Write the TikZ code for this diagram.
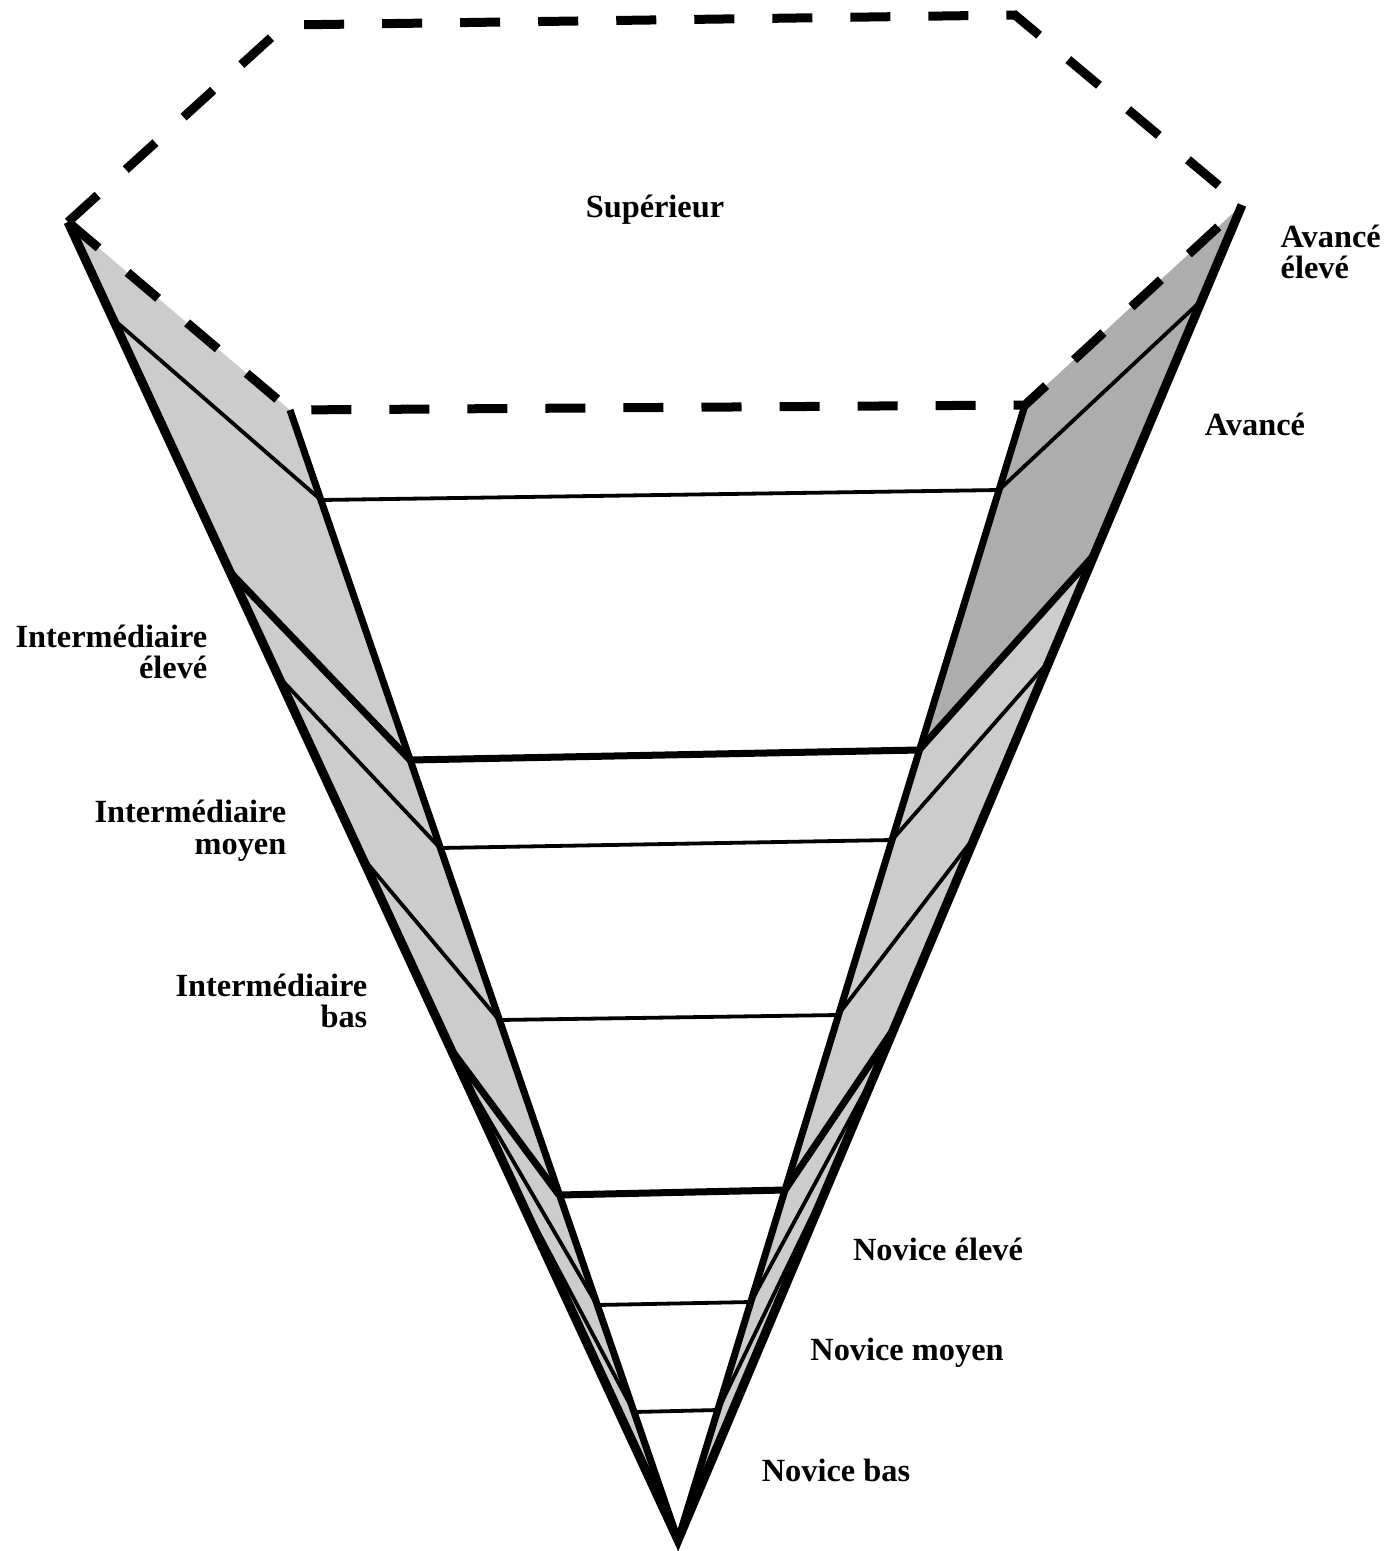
\documentclass[tikz,border=0pt]{standalone}
\usepackage{fontspec}
\setmainfont{Liberation Serif}
\usepackage{tikz}

\begin{document}
\begin{tikzpicture}[x=0.01cm, y=-0.01cm,
    every node/.append style={font=\fontsize{9.2}{9}\selectfont\bfseries},
    lbl/.style={inner sep=0pt},
    cone/.style={line width=0.09cm, line join=miter},
    face/.style={line width=0.07cm},
    rim/.style={line width=0.09cm, dash pattern=on 0.4cm off 0.38cm},
    fine/.style={line width=0.038cm},
    heavy/.style={line width=0.07cm},
    band/.style={fill=black!20},
    darkband/.style={fill=black!32},
]
\useasboundingbox (0,0) rectangle (1400,1551);

% cone corners
\coordinate (apex) at (678,1540);
\coordinate (olL) at (68,222);
\coordinate (ilL) at (290,410);
\coordinate (olR) at (1242,205);
\coordinate (ilR) at (1025,405);
\coordinate (bkL) at (285,25);
\coordinate (bkR) at (1015,15);

% levels on the front face
\coordinate (a1) at (321,500);  \coordinate (b1) at (999,490);
\coordinate (a2) at (410,760);  \coordinate (b2) at (919,750);
\coordinate (a3) at (440,848);  \coordinate (b3) at (892,840);
\coordinate (a4) at (499,1020); \coordinate (b4) at (838,1015);
\coordinate (a5) at (559,1195); \coordinate (b5) at (785,1190);
\coordinate (a6) at (597,1305); \coordinate (b6) at (751,1302);
\coordinate (a7) at (634,1412); \coordinate (b7) at (718,1410);

% starts of the slanted lines on the outer edges
\coordinate (p1) at (112,318);  \coordinate (q1) at (1202,300);
\coordinate (p2) at (230,572);  \coordinate (q2) at (1094,555);
\coordinate (p3) at (279,677);  \coordinate (q3) at (1050,660);
\coordinate (p4) at (362,857);  \coordinate (q4) at (976,835);
\coordinate (p5) at (450,1048); \coordinate (q5) at (893,1030);
\coordinate (p6) at (463,1075); \coordinate (q6) at (879,1065);
\coordinate (p7) at (511,1180); \coordinate (q7) at (834,1170);

% shaded sides
\fill[band] (olL) -- (ilL) -- (apex) -- cycle;
\fill[band] (olR) -- (ilR) -- (apex) -- cycle;
\fill[darkband] (olR) -- (ilR) -- (b2) -- (q2) -- cycle;

% slanted lines
\draw[fine] (p1) -- (a1);
\draw[heavy] (p2) -- (a2);
\draw[fine] (p3) -- (a3);
\draw[fine] (p4) -- (a4);
\draw[heavy] (p5) -- (a5);
\draw[fine] (p6) -- (a6);
\draw[fine] (p7) -- (a7);

\draw[fine] (q1) -- (b1);
\draw[heavy] (q2) -- (b2);
\draw[fine] (q3) -- (b3);
\draw[fine] (q4) -- (b4);
\draw[heavy] (q5) -- (b5);
\draw[fine] (q6) -- (b6);
\draw[fine] (q7) -- (b7);

% levels
\draw[fine] (a1) -- (b1);
\draw[heavy] (a2) -- (b2);
\draw[fine] (a3) -- (b3);
\draw[fine] (a4) -- (b4);
\draw[heavy] (a5) -- (b5);
\draw[fine] (a6) -- (b6);
\draw[fine] (a7) -- (b7);

% edges
\draw[face] (ilL) -- (apex) -- (ilR);
\draw[cone] (olL) -- (apex) -- (olR);

% open top
\draw[rim] (olL) -- (bkL) -- (bkR) -- (olR);
\draw[rim] (olL) -- (ilL) -- (ilR) -- (olR);

\node[lbl] (sup) at (655,210) {Supérieur};
\node[lbl, anchor=west, align=left] (avel) at (1280,252) {Avancé\\élevé};
\node[lbl] (av) at (1255,424) {Avancé};
\node[lbl, anchor=east, align=right] (inel) at (208,652) {Intermédiaire\\élevé};
\node[lbl, anchor=east, align=right] (inmo) at (287,831) {Intermédiaire\\moyen};
\node[lbl, anchor=east, align=right] (inba) at (368,1001) {Intermédiaire\\bas};
\node[lbl] (noel) at (938,1249) {Novice élevé};
\node[lbl] (nomo) at (907,1353) {Novice moyen};
\node[lbl] (noba) at (836,1470) {Novice bas};

\end{tikzpicture}
\end{document}
